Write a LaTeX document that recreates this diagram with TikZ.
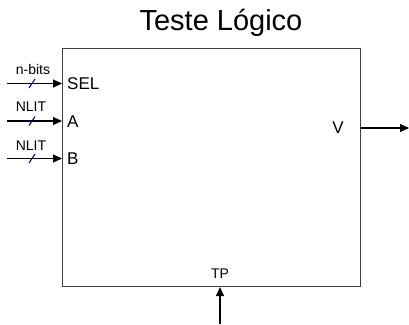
\documentclass[tikz,border=0pt]{standalone}
\usepackage{fontspec}
\setmainfont{Liberation Sans}
\usetikzlibrary{arrows.meta,calc}
\begin{document}
\begin{tikzpicture}[x=1pt,y=-1pt,
  blk/.style={draw=black!75,line width=1.1pt},
  sig/.style={draw=black,line width=1.1pt,-{Triangle[length=9pt,width=8pt]}},
  slashmark/.style={draw=blue!60!black,line width=1.1pt},
  lbl/.style={inner sep=0pt,font=\fontsize{17}{19}\selectfont},
  small/.style={inner sep=0pt,font=\fontsize{14}{16}\selectfont}]
\useasboundingbox (0,0) rectangle (409,324);
\node[blk,minimum width=298pt,minimum height=238pt,inner sep=0pt,anchor=north west] (box) at (62,48) {};
\node[inner sep=0pt,font=\fontsize{29}{32}\selectfont] (title) at (221,23) {Teste Lógico};
% inputs
\coordinate (s1) at (7,83.5);
\coordinate (s2) at (7,121);
\coordinate (s3) at (7,158.5);
\coordinate (e1) at (box.west |- s1);
\coordinate (e2) at (box.west |- s2);
\coordinate (e3) at (box.west |- s3);
\node[lbl,anchor=west] (sel) at (67,84) {SEL};
\node[lbl,anchor=west] (a) at (67,121.5) {A};
\node[lbl,anchor=west] (b) at (67,159) {B};
\node[small] (nb) at (33,69) {n-bits};
\node[small] (n1) at (31,107) {NLIT};
\node[small] (n2) at (31,146) {NLIT};
\draw[sig] (s1) -- (e1);
\draw[sig] (s2) -- (e2);
\draw[sig] (s3) -- (e3);
\foreach \c in {s1,s2,s3}{
  \draw[slashmark] ($(\c)+(22,4.5)$) -- ($(\c)+(28,-4.5)$);
}
% output
\node[lbl,anchor=east] (v) at (344,128) {V};
\coordinate (o1) at (box.east |- v);
\coordinate (o2) at (409,128);
\draw[sig] (o1) -- (o2);
% TP
\node[small,anchor=south] (tp) at (220,279) {TP};
\coordinate (t1) at (220,324);
\coordinate (t2) at (t1 |- box.south);
\draw[sig] (t1) -- (t2);
\end{tikzpicture}
\end{document}
